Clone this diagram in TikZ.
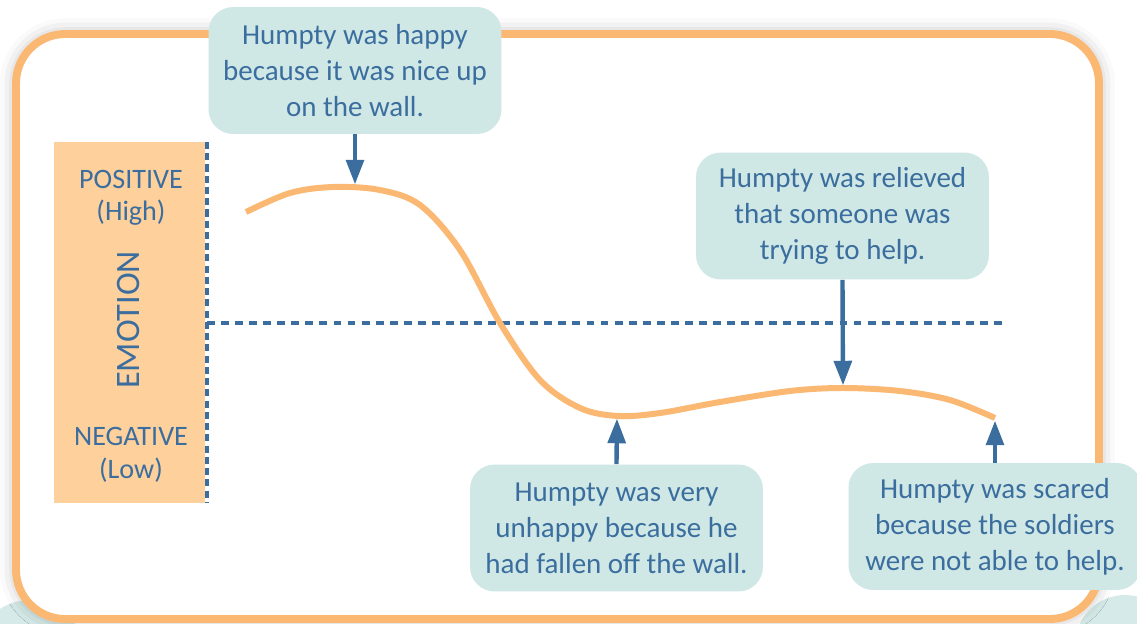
\documentclass[tikz,border=0pt]{standalone}
\usepackage{fontspec}
\setmainfont{Carlito}
\usetikzlibrary{arrows.meta, shadows.blur}
\definecolor{frameorange}{RGB}{251, 184, 114}
\definecolor{bandpeach}{RGB}{253, 208, 156}
\definecolor{boxteal}{RGB}{207, 232, 229}
\definecolor{inkblue}{RGB}{59, 110, 158}

\begin{document}
\begin{tikzpicture}[x=0.02cm, y=-0.02cm,
    storybox/.style={fill=boxteal, rounded corners=14pt, text=inkblue,
      align=center, inner sep=0pt, minimum width=5.86cm, minimum height=2.54cm,
      font=\fontsize{16.5}{20.4}\selectfont},
    pointer/.style={inkblue, line width=2.5pt, shorten >=1.5pt,
      -{Triangle[width=10pt, length=14pt]}},
    guide/.style={inkblue, line width=2.7pt, dash pattern=on 4pt off 2.4pt},
    axislabel/.style={text=inkblue, align=center,
      font=\fontsize{16}{18.5}\selectfont}]
    \useasboundingbox (0,0) rectangle (1137,623);

    %% background blobs and frame
    \fill[boxteal!85] (30,655) circle (55);
    \fill[boxteal!85] (1125,645) circle (50);
    \draw[frameorange, line width=4.5pt, fill=white, rounded corners=28pt,
          blur shadow={shadow xshift=0pt, shadow yshift=0pt,
            shadow blur radius=9pt, shadow opacity=30}]
      (16,34) rectangle (1099,619);

    %% emotion axis
    \fill[bandpeach] (54,142) rectangle (205,503);
    \draw[guide] (207,142) -- (207,503);
    \draw[guide, dash pattern=on 4.5pt off 3.5pt] (207,323) -- (1005,323);
    \node[axislabel] (high) at (131,198) {POSITIVE\\(High)};
    \node[axislabel, rotate=90, font=\fontsize{19.5}{22}\selectfont]
      (emotion) at (129,320) {EMOTION};
    \node[axislabel] (low) at (131,455) {NEGATIVE\\(Low)};

    %% story curve
    \draw[frameorange, line width=3.4pt]
      plot[smooth, tension=0.55] coordinates {(246,212) (290,193) (333,187)
        (380,190) (420,205) (460,250) (500,323) (540,380) (580,408) (618,416)
        (660,413) (720,402) (790,391) (843,388) (900,391) (950,400) (995,418)};
    \coordinate (top) at (355,187);
    \coordinate (fall) at (617,416);
    \coordinate (relief) at (843,388);
    \coordinate (scared) at (995,418);

    %% story boxes
    \node[storybox] (happy) at (355,70.5)
      {Humpty was happy\\because it was nice up\\on the wall.};
    \node[storybox] (relieved) at (842.5,216)
      {Humpty was relieved\\that someone was\\trying to help.};
    \node[storybox] (unhappy) at (616.5,528)
      {Humpty was very\\unhappy because he\\had fallen off the wall.};
    \node[storybox] (afraid) at (995,526.5)
      {Humpty was scared\\because the soldiers\\were not able to help.};

    \draw[pointer] (happy.south) -- (top);
    \draw[pointer] (relieved.south) -- (relief);
    \draw[pointer] (unhappy.north) -- (fall);
    \draw[pointer] (afraid.north) -- (scared);
  \end{tikzpicture}
\end{document}
